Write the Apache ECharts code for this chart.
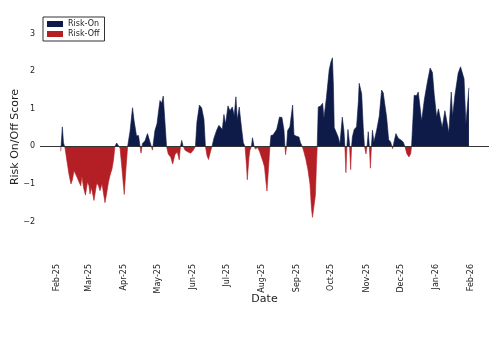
<!DOCTYPE html>
<html><head><meta charset="utf-8">
<script src="https://cdn.jsdelivr.net/npm/echarts@6/dist/echarts.min.js"></script>
<style>html,body{margin:0;padding:0;background:#fff}#c{width:500px;height:357px}</style>
</head><body><div id="c"></div>
<script>
// days since 2025-02-01
const dayOffsets = [3.3,4.7,5.7,7.1,8.8,10.6,12.3,13.5,15.0,16.5,18.1,19.4,20.9,22.0,23.4,25.1,26.9,28.2,29.1,30.4,32.6,35.0,36.6,37.9,39.7,42.3,44.1,45.4,46.7,48.5,49.8,51.1,52.6,54.2,55.6,57.3,59.3,60.8,62.3,64.4,66.6,67.9,70.1,71.9,73.2,74.1,75.4,77.6,79.8,82.0,84.2,86.4,88.2,89.5,90.8,92.3,93.7,95.2,96.6,98.1,100.3,102.0,104.0,106.1,107.8,108.9,110.0,111.1,112.9,115.5,117.9,120.2,122.1,123.4,125.6,127.6,129.6,130.9,132.3,133.6,135.3,136.7,138.4,140.8,142.8,144.3,145.8,147.2,148.7,150.8,152.5,154.6,156.3,157.8,159.0,160.7,162.7,164.3,165.8,167.1,167.8,169.3,170.2,171.5,172.4,173.7,175.0,176.8,178.5,179.9,181.6,183.0,184.3,185.2,186.5,187.8,188.7,190.5,192.2,193.7,194.9,196.2,198.4,200.2,201.0,201.6,202.5,203.4,205.4,207.8,209.0,211.3,213.4,214.7,216.3,217.8,219.5,221.3,223.1,224.4,225.3,226.6,227.9,228.8,229.5,230.4,232.3,234.3,235.4,237.6,240.1,241.6,242.9,243.8,244.5,246.0,248.0,249.5,251.6,253.1,253.9,254.8,255.7,256.6,257.9,259.0,259.8,260.5,262.1,264.2,265.8,266.5,268.7,270.1,271.1,272.5,273.6,274.5,275.5,276.4,277.3,278.2,279.5,281.9,284.2,286.3,287.7,289.2,290.7,292.5,294.2,296.0,297.1,298.9,300.9,302.9,305.3,306.8,308.6,310.4,311.9,312.7,313.9,315.0,317.0,318.6,319.4,321.6,324.0,326.7,329.1,331.1,332.7,334.8,336.4,338.1,339.7,342.1,343.6,345.6,347.7,348.9,350.9,353.8,355.9,357.4,359.0,360.6,361.9,363.3];
const scores = [-0.13,0.52,0.1,-0.05,-0.4,-0.75,-1.0,-0.9,-0.65,-0.6,-0.85,-0.95,-1.05,-0.8,-1.1,-1.3,-0.95,-1.05,-1.27,-1.1,-1.44,-0.98,-1.05,-1.18,-1.0,-1.5,-1.2,-0.95,-0.78,-0.6,-0.37,0.0,0.09,0.02,-0.05,-0.6,-1.28,-0.6,0.0,0.4,1.03,0.7,0.28,0.29,0.28,-0.18,0.08,0.15,0.34,0.12,-0.1,0.43,0.6,0.92,1.22,1.15,1.34,0.65,0.0,-0.2,-0.29,-0.47,-0.22,-0.15,-0.36,0.0,0.16,0.02,-0.1,-0.15,-0.18,-0.1,0.0,0.65,1.1,1.02,0.72,0.0,-0.25,-0.35,-0.15,0.0,0.22,0.43,0.56,0.6,0.45,0.85,0.6,1.08,0.95,1.05,0.82,1.32,0.7,1.05,0.5,0.1,0.0,-0.5,-0.89,-0.3,-0.1,0.0,0.23,0.02,-0.07,-0.03,-0.12,-0.25,-0.4,-0.55,-0.95,-1.19,-0.6,0.0,0.29,0.3,0.29,0.45,0.6,0.78,0.77,0.43,0.0,-0.22,0.0,0.42,0.52,1.1,0.3,0.27,0.25,0.1,0.0,-0.15,-0.35,-0.62,-1.0,-1.65,-1.89,-1.85,-1.3,-0.5,0.0,1.05,1.07,1.15,0.75,1.3,2.05,2.25,2.36,1.6,0.5,0.45,0.25,0.06,0.78,0.4,0.0,-0.7,0.0,0.45,0.1,-0.62,0.0,0.25,0.45,0.52,1.2,1.68,1.4,0.5,0.02,-0.2,0.05,0.39,0.0,-0.58,0.0,0.43,0.12,0.43,0.8,1.5,1.43,1.1,0.78,0.18,0.12,-0.06,0.1,0.34,0.22,0.18,0.12,0.0,-0.2,-0.28,-0.2,0.0,0.0,1.36,1.35,1.45,1.4,0.68,1.25,1.72,2.09,1.97,1.38,0.78,1.0,0.95,0.5,0.95,0.7,0.36,1.45,0.8,1.35,1.95,2.12,2.08,1.8,0.6,0.65,1.56];
const tickLabels = ['Feb-25','Mar-25','Apr-25','May-25','Jun-25','Jul-25','Aug-25','Sep-25','Oct-25','Nov-25','Dec-25','Jan-26','Feb-26'];
const yTickLabels = ['\u22122','\u22121','0','1','2','3'];
const seriesNames = ['Risk-On','Risk-Off'];

const NAVY = '#0e1a47';
const RED = '#b41f25';
const DAY = 86400000;
const BASE = Date.UTC(2025, 1, 1);
const data = dayOffsets.map((d, i) => [d, scores[i]]);
// month starts as day offsets from 2025-02-01
const tickValues = tickLabels.map((_, i) => Math.round((Date.UTC(2025, 1 + i, 1) - BASE) / DAY));
const xMin = -15;
const xMax = tickValues[tickValues.length - 1] + 16;

const chart = echarts.init(document.getElementById('c'), null, {renderer: 'canvas'});
chart.setOption({
  animation: false,
  textStyle: {fontFamily: 'DejaVu Sans'},
  grid: {left: 40, right: 11, top: 15, bottom: 98, containLabel: false, outerBoundsMode: 'none'},
  legend: {
    orient: 'vertical', left: 43, top: 17,
    data: [{name: seriesNames[0], itemStyle: {color: NAVY}}, {name: seriesNames[1], itemStyle: {color: RED}}],
    icon: 'rect', itemWidth: 16, itemHeight: 6, itemGap: 2,
    padding: [3, 5, 3, 4], borderColor: '#333', borderWidth: 1, backgroundColor: '#fff',
    textStyle: {fontSize: 8, color: '#222', fontFamily: 'DejaVu Sans'}
  },
  xAxis: {
    type: 'value', min: xMin, max: xMax,
    axisLine: {show: false}, axisTick: {show: false}, splitLine: {show: false},
    axisLabel: {
      customValues: tickValues, rotate: 90, fontSize: 8, color: '#222', margin: 5,
      formatter: function (v) {
        const idx = tickValues.indexOf(v);
        return idx >= 0 ? tickLabels[idx] : '';
      }
    },
    name: 'Date', nameLocation: 'middle', nameGap: 35, nameMoveOverlap: false,
    nameTextStyle: {fontSize: 11, color: '#222'}
  },
  yAxis: {
    type: 'value', min: -3, max: 3.5, interval: 1,
    splitLine: {show: false}, axisLine: {show: false}, axisTick: {show: false},
    axisLabel: {
      fontSize: 8, color: '#222', margin: 5,
      formatter: function (v) {
        const idx = Math.round(v) + 2;
        return (Math.abs(v - Math.round(v)) < 1e-9 && idx >= 0 && idx < yTickLabels.length) ? yTickLabels[idx] : '';
      }
    },
    name: 'Risk On/Off Score', nameLocation: 'middle', nameGap: 19, nameMoveOverlap: false,
    nameTextStyle: {fontSize: 11, color: '#222'}
  },
  visualMap: {
    show: false, type: 'piecewise', seriesIndex: 0, dimension: 1,
    pieces: [{gt: 0, lte: 10, color: NAVY}, {gt: -10, lte: 0, color: RED}],
    outOfRange: {color: RED}
  },
  series: [
    {
      name: seriesNames[0], type: 'line', data: data, symbol: 'none',
      lineStyle: {width: 0.6}, areaStyle: {opacity: 1},
      markLine: {
        silent: true, symbol: ['none', 'none'], label: {show: false},
        lineStyle: {color: '#333', type: 'solid', width: 1},
        data: [[{coord: [xMin, 0]}, {coord: [xMax, 0]}]]
      }
    },
    {name: seriesNames[1], type: 'line', data: [], itemStyle: {color: RED}}
  ]
});
</script>
</body></html>
